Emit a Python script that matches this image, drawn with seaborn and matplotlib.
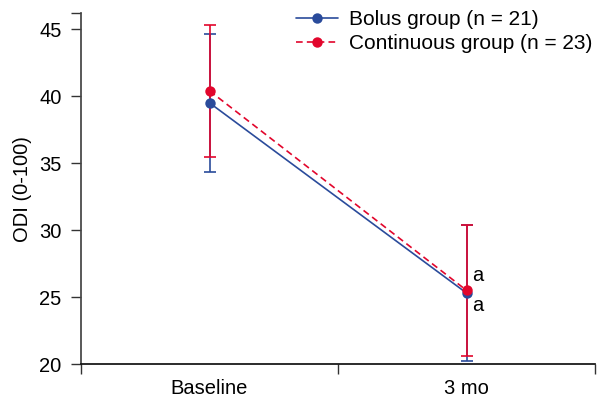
import matplotlib
matplotlib.use("Agg")
import matplotlib.pyplot as plt
import seaborn as sns
import pandas as pd
import numpy as np

timepoints = ["Baseline", "3 mo"]
groups = ["Bolus group (n = 21)", "Continuous group (n = 23)"]
bolus_mean = [39.5, 25.3]
bolus_sd = [5.15, 5.1]
cont_mean = [40.4, 25.5]
cont_sd = [4.95, 4.9]
colors = ["#2a4b9b", "#e2062c"]

sns.set_theme(style="ticks")
plt.rcParams['font.family'] = ['Liberation Sans', 'DejaVu Sans']
plt.rcParams['text.color'] = 'black'
plt.rcParams['axes.labelcolor'] = 'black'
plt.rcParams['xtick.labelcolor'] = 'black'
plt.rcParams['ytick.labelcolor'] = 'black'
FS = 14.5

df = pd.DataFrame({
    "x": [0, 1, 0, 1],
    "ODI": bolus_mean + cont_mean,
    "group": [groups[0]] * 2 + [groups[1]] * 2,
})

fig = plt.figure(figsize=(5.97, 3.99), dpi=100)
ax = fig.add_axes([0.1357, 0.0877, 0.861, 0.8793])

sds = [bolus_sd, cont_sd]
means = [bolus_mean, cont_mean]
for i in range(2):
    ax.errorbar([0, 1], means[i], yerr=sds[i], fmt="none", ecolor=colors[i],
                elinewidth=1.2, capsize=4.3, capthick=1.2, zorder=2 + i)

sns.lineplot(data=df, x="x", y="ODI", hue="group", style="group",
             palette=colors, dashes=[(None, None), (4, 2.5)], markers=["o", "o"],
             markersize=7.5, markeredgewidth=0, linewidth=1.2, ax=ax, zorder=5)

ax.text(1.02, 26.6, "a", fontsize=FS, ha="left", va="center", color="black")
ax.text(1.02, 24.4, "a", fontsize=FS, ha="left", va="center", color="black")

ax.set_xlim(-0.5, 1.5)
ax.set_ylim(20, 46.2)
ax.set_xticks([0, 1])
ax.set_xticklabels(timepoints)
ax.set_xticks([-0.5, 0.5, 1.5], minor=True)
ax.tick_params(axis="x", which="major", length=0, labelsize=FS, pad=11, labelcolor="black")
ax.tick_params(axis="x", which="minor", length=7, width=1, color="#333333")
ax.set_yticks([20, 25, 30, 35, 40, 45])
ax.set_yticks([46.2], minor=True)
ax.tick_params(axis="y", which="both", length=7, width=1, labelsize=FS, color="#333333",
               pad=7, labelcolor="black")
ax.set_xlabel("")
ax.set_ylabel("ODI (0-100)", fontsize=FS, labelpad=5, color="black")
sns.despine(ax=ax, top=True, right=True)
ax.spines["left"].set_color("#444444")
ax.spines["bottom"].set_color("#111111")

leg = ax.legend(loc="upper right", bbox_to_anchor=(1.02, 1.045), frameon=False, fontsize=15,
                handlelength=2.0, handletextpad=0.55, labelspacing=0.25, borderaxespad=0.2)
for t in leg.get_texts():
    t.set_color("black")

fig.savefig("out.png", dpi=100)
